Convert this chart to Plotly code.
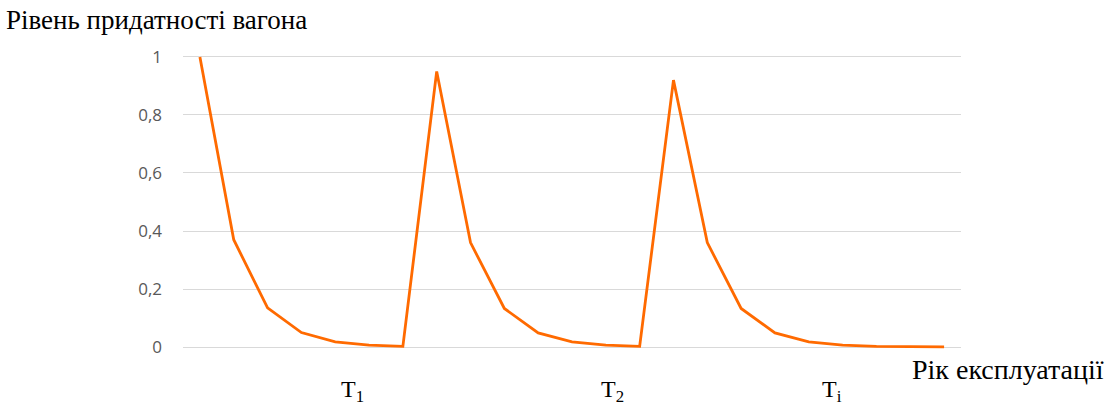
import plotly.graph_objects as go

# Data
years = list(range(1, 24))
suitability = [1.0, 0.37, 0.135, 0.05, 0.018, 0.007, 0.0025,
               0.95, 0.36, 0.133, 0.049, 0.018, 0.0065, 0.0025,
               0.92, 0.36, 0.133, 0.049, 0.018, 0.0065, 0.0025, 0.001, 0.0005]
y_ticks = [0, 0.2, 0.4, 0.6, 0.8, 1]
y_tick_labels = ["0", "0,2", "0,4", "0,6", "0,8", "1"]
period_labels = ["T<sub>1</sub>", "T<sub>2</sub>", "T<sub>i</sub>"]
period_positions = [5.5, 13.2, 19.7]

PX = 290.0  # pixels per unit on y
fig = go.Figure()
fig.add_trace(go.Scatter(
    x=years, y=suitability, mode="lines",
    line=dict(color="#FF6A00", width=2.8),
    cliponaxis=False, showlegend=False,
))

serif = "'Liberation Serif', 'Times New Roman', serif"
pad = 0.01
top = 57 - pad * PX
bot = 412 - 347 - pad * PX
plot_h = (1 + 2 * pad) * PX
plot_w = 1108 - 183 - 147

def py(pix_y):
    return (412 - bot - pix_y) / plot_h

def pxp(pix_x):
    return (pix_x - 183) / plot_w

fig.update_layout(
    width=1108, height=412,
    margin=dict(l=183, r=147, t=top, b=bot),
    paper_bgcolor="white", plot_bgcolor="white",
    xaxis=dict(range=[0.5, 23.5], showticklabels=False, showgrid=False,
               zeroline=False, showline=False, fixedrange=True),
    yaxis=dict(range=[-pad, 1 + pad], tickvals=y_ticks, ticktext=y_tick_labels,
               showgrid=True, gridcolor="#D9D9D9", gridwidth=1.3,
               zeroline=False, showline=False,
               tickfont=dict(family="Open Sans, Liberation Sans, sans-serif", size=17, color="#595959"),
               ticklabelstandoff=20),
)

fig.add_annotation(text="Рівень придатності вагона", xref="paper", yref="paper",
                   x=pxp(4), y=py(20), xanchor="left", yanchor="middle",
                   showarrow=False, font=dict(family=serif, size=27, color="black"))
fig.add_annotation(text="Рік експлуатації", xref="paper", yref="paper",
                   x=pxp(1106), y=py(369), xanchor="right", yanchor="middle",
                   showarrow=False, font=dict(family=serif, size=28, color="black"))
for lab, pos in zip(period_labels, period_positions):
    fig.add_annotation(text=lab, x=pos, xref="x", yref="paper", y=py(391),
                       xanchor="center", yanchor="middle", showarrow=False,
                       font=dict(family=serif, size=24, color="black"))

fig.write_html("out.html", config={"displayModeBar": False},
               post_script="document.body.style.margin='0';document.body.style.padding='0';")
